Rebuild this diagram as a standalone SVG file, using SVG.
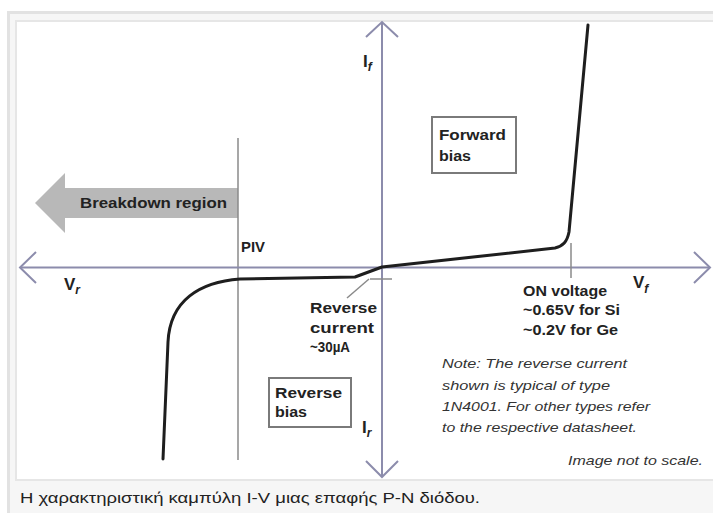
<svg xmlns="http://www.w3.org/2000/svg" width="713" height="513" viewBox="0 0 713 513">
<style>
.lbl{font-family:"Liberation Sans",Arial,sans-serif;font-weight:bold;font-size:14px;fill:#222}
.note{font-family:"Liberation Sans",Arial,sans-serif;font-style:italic;font-size:13.5px;fill:#333}
.ax{font-size:17px}
.sub{font-size:12px;font-style:italic}
.axis{stroke:#8c8cac;stroke-width:2;fill:none}
.tick{stroke:#8a8a8a;stroke-width:1.5;fill:none}
.box{fill:#fff;stroke:#7a7a7a;stroke-width:2}
.curve{stroke:#1e1e1e;stroke-width:3;fill:none;stroke-linejoin:round;stroke-linecap:round}
</style>
<rect x="0" y="0" width="713" height="513" fill="#fff"/>
<rect x="8.5" y="12.5" width="720" height="520" fill="#f6f6f6" stroke="#e2e2e2" stroke-width="3"/>
<rect x="16" y="21" width="710" height="459" fill="#fff" stroke="#e6e6e6" stroke-width="2"/>

<g id="breakdown">
<polygon points="35,203 65,173 65,188 238,188 238,218 65,218 65,233" fill="#b8b8b8"/>
<text class="lbl" x="80" y="208" textLength="147" lengthAdjust="spacingAndGlyphs" fill="#333">Breakdown region</text>
</g>

<g id="connectors">
<line class="tick" x1="238" y1="138" x2="238" y2="460"/>
<line class="axis" x1="20" y1="267.5" x2="710" y2="267.5"/>
<polyline class="axis" points="36,252 20,267.5 36,283"/>
<polyline class="axis" points="694,252 710,267.5 694,283"/>
<line class="axis" x1="382" y1="22" x2="382" y2="477"/>
<polyline class="axis" points="366,37 382,22 398,37"/>
<polyline class="axis" points="366,461 382,477 398,461"/>
<line class="tick" x1="571" y1="243" x2="571" y2="278"/>
<line class="tick" x1="370" y1="279" x2="392" y2="279"/>
<line class="tick" x1="347" y1="298" x2="369" y2="279"/>
<path class="curve" d="M163,459 L168,342 C170,300 200,282 240,279 L355,277 L382,267 L555,248 C563,246 567,242 569,232 L588,25"/>
</g>

<g id="piv"><text class="lbl" x="241" y="252" font-size="12" textLength="24" lengthAdjust="spacingAndGlyphs">PIV</text></g>

<g id="if"><text class="lbl ax" x="363" y="67">I<tspan class="sub" dy="4">f</tspan></text></g>
<g id="ir"><text class="lbl ax" x="362" y="433">I<tspan class="sub" dy="4">r</tspan></text></g>
<g id="vr"><text class="lbl ax" x="64" y="290">V<tspan class="sub" dy="4">r</tspan></text></g>
<g id="vf"><text class="lbl ax" x="633" y="288">V<tspan class="sub" dy="5">f</tspan></text></g>

<g id="forward-bias">
<rect class="box" x="432" y="117" width="84" height="56"/>
<text class="lbl" x="439" y="140" textLength="67" lengthAdjust="spacingAndGlyphs">Forward</text>
<text class="lbl" x="439" y="161" textLength="32" lengthAdjust="spacingAndGlyphs">bias</text>
</g>

<g id="reverse-bias">
<rect class="box" x="269" y="378" width="82" height="49"/>
<text class="lbl" x="275" y="398" textLength="67" lengthAdjust="spacingAndGlyphs">Reverse</text>
<text class="lbl" x="275" y="417" textLength="32" lengthAdjust="spacingAndGlyphs">bias</text>
</g>

<g id="reverse-current">
<text class="lbl" x="310" y="313" textLength="67" lengthAdjust="spacingAndGlyphs">Reverse</text>
<text class="lbl" x="310" y="333" textLength="64" lengthAdjust="spacingAndGlyphs">current</text>
<text class="lbl" x="310" y="352" textLength="40" lengthAdjust="spacingAndGlyphs">~30µA</text>
</g>

<g id="on-voltage">
<text class="lbl" x="523" y="296" textLength="84" lengthAdjust="spacingAndGlyphs">ON voltage</text>
<text class="lbl" x="523" y="315" textLength="97" lengthAdjust="spacingAndGlyphs">~0.65V for Si</text>
<text class="lbl" x="523" y="335" textLength="95" lengthAdjust="spacingAndGlyphs">~0.2V for Ge</text>
</g>

<g id="note">
<text class="note" x="442" y="368" textLength="185" lengthAdjust="spacingAndGlyphs">Note: The reverse current</text>
<text class="note" x="442" y="390" textLength="168" lengthAdjust="spacingAndGlyphs">shown is typical of  type</text>
<text class="note" x="442" y="411" textLength="208" lengthAdjust="spacingAndGlyphs">1N4001. For other types refer</text>
<text class="note" x="442" y="432" textLength="195" lengthAdjust="spacingAndGlyphs">to the respective datasheet.</text>
<text class="note" x="568" y="465" textLength="135" lengthAdjust="spacingAndGlyphs">Image not to scale.</text>
</g>

<text x="20" y="503" font-family="'Liberation Sans','Noto Sans',Arial,sans-serif" font-size="15" fill="#222" textLength="460" lengthAdjust="spacingAndGlyphs">Η χαρακτηριστική καμπύλη I-V μιας επαφής P-N διόδου.</text>
</svg>
